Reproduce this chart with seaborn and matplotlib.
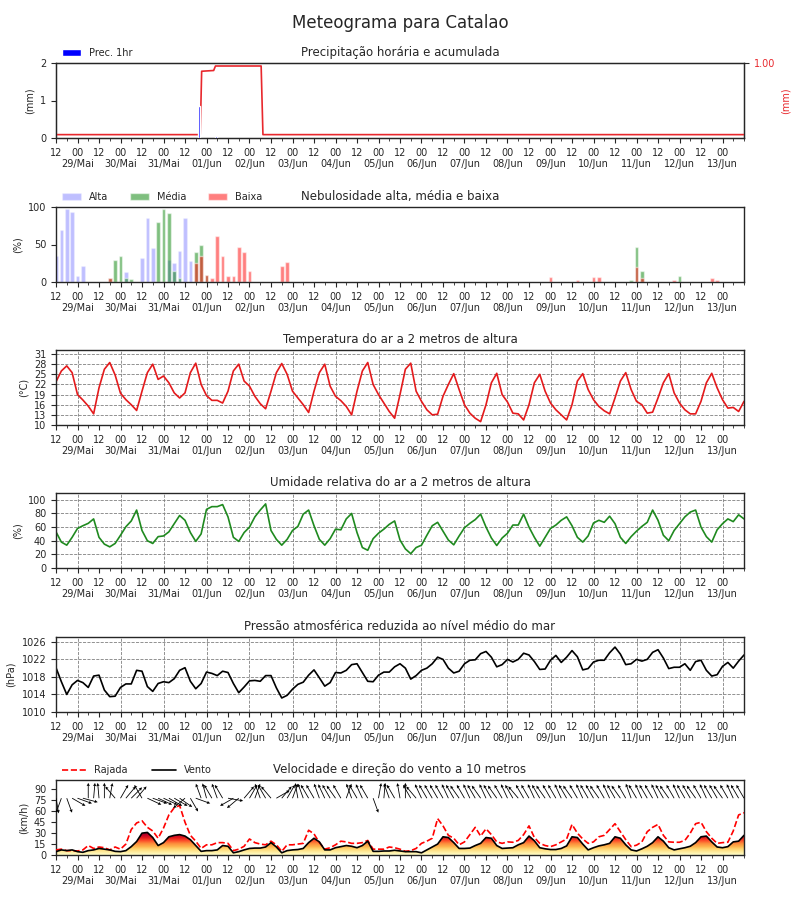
import datetime as dt
import numpy as np
import matplotlib
matplotlib.use('Agg')
import matplotlib.pyplot as plt
import seaborn as sns
from matplotlib.ticker import FixedLocator, FuncFormatter, MultipleLocator

# horas desde 28/Mai 12 UTC, dados a cada 3 h
inicio = dt.datetime(2024, 5, 28, 12)
meses = {5: 'Mai', 6: 'Jun'}
horas = np.arange(0, 385, 3)

# precipitacao
prec_horas = [79.8, 89.3]
prec_valores = [0.85, 0.05]
acum_horas = [0, 80.5, 81.3, 88, 89, 114.5, 115.5, 384]
acum_valores = [0.09, 0.09, 1.78, 1.80, 1.92, 1.92, 0.09, 0.09]

# nebulosidade (so os horarios com nuvem)
alta_horas = [0, 3, 6, 9, 12, 15, 39, 48, 51, 54, 63, 66, 69, 72, 75]
alta_valores = [35, 70, 97, 93, 8, 22, 14, 32, 85, 45, 30, 25, 42, 85, 28]
media_horas = [30, 33, 36, 39, 42, 57, 60, 63, 66, 69, 78, 81, 84, 321, 324, 327, 348]
media_valores = [6, 30, 35, 5, 4, 80, 98, 92, 15, 5, 40, 50, 10, 3, 47, 15, 8]
baixa_horas = [30, 78, 81, 84, 87, 90, 93, 96, 99, 102, 105, 108, 126, 129,
               276, 291, 300, 303, 324, 327, 345, 366, 369]
baixa_valores = [5, 25, 35, 10, 5, 62, 35, 8, 8, 47, 40, 15, 22, 27,
                 7, 3, 7, 7, 20, 5, 3, 5, 3]

temperatura = [
    22.8, 26.0, 27.5, 25.5, 19.0, 17.4, 15.6, 13.3,
    21.0, 26.5, 28.5, 24.8, 19.4, 17.5, 16.0, 14.3,
    20.0, 25.5, 28.0, 23.5, 24.5, 22.5, 19.5, 18.0,
    19.5, 25.5, 28.3, 22.0, 18.7, 17.3, 17.3, 16.5,
    20.0, 26.0, 28.0, 23.0, 21.5, 18.5, 16.3, 14.8,
    20.0, 25.5, 28.2, 25.0, 20.0, 18.0, 16.0, 13.7,
    20.0, 25.5, 28.0, 21.5, 18.5, 17.2, 15.5, 13.0,
    20.0, 26.0, 28.5, 22.0, 19.0, 16.5, 14.0, 12.0,
    19.0, 26.5, 28.3, 20.0, 17.0, 14.5, 13.0, 13.2,
    18.5, 22.0, 25.2, 20.5, 16.0, 13.5, 12.0, 11.0,
    16.0, 22.5, 25.3, 19.0, 16.8, 13.5, 13.3, 11.5,
    16.0, 22.5, 25.0, 20.0, 16.5, 14.5, 13.0, 11.5,
    16.0, 23.0, 25.2, 20.5, 17.5, 15.5, 14.2, 13.3,
    18.0, 23.0, 25.5, 20.5, 17.0, 16.0, 13.5, 13.8,
    18.0, 22.5, 25.2, 19.5, 16.5, 14.5, 13.3, 13.3,
    17.0, 22.5, 25.3, 21.0, 17.5, 15.0, 15.2, 14.0,
    17.0]

umidade = [
    53, 38, 33.5, 45, 58, 62, 65.5, 72,
    45, 35, 31, 36, 48, 60.5, 69, 85,
    55, 40, 36, 46, 47, 53, 65, 77,
    70, 52, 39, 50, 86, 90, 90, 93,
    75, 45, 39, 52, 60, 75, 85, 94,
    55, 42, 33.5, 42, 55, 61, 79, 85,
    62, 42, 33.5, 43, 57, 56, 72, 80,
    52, 30, 26, 43, 51, 57, 64, 69,
    41, 28, 21, 30, 33.5, 48, 62, 67,
    54, 41, 34, 47, 59, 65.5, 71, 79,
    60, 44, 33, 44, 51, 63, 63, 79,
    60, 45, 32, 45, 58, 63, 70, 75,
    62, 45, 38, 47, 66, 70, 67, 76,
    65, 45, 36, 46, 54, 61, 67, 85,
    70, 48, 40, 55, 65, 75, 82, 85,
    60, 46, 38, 56, 65, 72, 68, 78,
    72]

pressao = [
    1020.1, 1016.9, 1014.0, 1016.2, 1017.2, 1016.7, 1015.6, 1018.2,
    1018.4, 1015.0, 1013.5, 1013.6, 1015.6, 1016.4, 1016.4, 1019.5,
    1019.3, 1015.8, 1014.7, 1016.5, 1016.9, 1016.7, 1017.6, 1019.5,
    1020.1, 1017.0, 1015.3, 1016.5, 1019.1, 1018.8, 1018.3, 1019.3,
    1019.0, 1016.5, 1014.4, 1015.7, 1017.1, 1017.2, 1017.0, 1018.3,
    1018.3, 1015.5, 1013.2, 1013.8, 1015.2, 1016.3, 1016.8, 1018.4,
    1019.6, 1017.8, 1015.9, 1016.7, 1019.0, 1018.9, 1019.5, 1020.8,
    1021.0, 1019.0, 1017.0, 1016.9, 1018.4, 1019.1, 1019.1, 1020.3,
    1021.0, 1020.0, 1017.5, 1018.3, 1019.5, 1020.0, 1021.0, 1022.5,
    1022.0, 1020.0, 1018.9, 1019.3, 1021.0, 1021.8, 1021.9, 1023.3,
    1023.8, 1022.5, 1020.3, 1020.8, 1022.0, 1021.4, 1022.0, 1023.4,
    1023.0, 1021.5, 1019.7, 1019.8, 1021.8, 1022.9, 1021.3, 1022.5,
    1024.0, 1022.6, 1019.6, 1019.9, 1021.4, 1021.8, 1021.8, 1023.5,
    1024.8, 1023.2, 1020.8, 1021.0, 1022.0, 1021.6, 1022.0, 1023.6,
    1024.2, 1022.3, 1019.9, 1020.2, 1020.2, 1021.0, 1019.5, 1021.5,
    1021.8, 1019.5, 1018.2, 1018.5, 1020.4, 1021.3, 1020.0, 1021.6,
    1023.0]

vento = [
    4.6, 7, 6, 7, 4.6, 3.7, 6, 7,
    9, 8, 7, 5, 4.6, 6, 11.5, 18.5,
    30, 31, 24, 13, 17, 25, 27, 28,
    26, 21, 13, 5, 6, 6, 7, 13,
    12, 3, 4.6, 7, 9, 9.5, 9.5, 11,
    17, 11, 3, 6, 7, 7.5, 9, 17,
    23, 18, 7, 7, 10, 11.5, 13, 12,
    10, 13, 19, 5, 5, 5.5, 5.5, 6.5,
    5.5, 4.6, 4.6, 4.6, 3, 7, 11, 15,
    25, 24, 17, 9, 9, 9.5, 13, 16,
    24, 23, 13, 9, 9.5, 10, 14, 17,
    26, 19.5, 10, 8.5, 7.5, 7.5, 9, 12.5,
    25, 24, 15, 7, 10, 12.5, 14, 16,
    25, 23, 14, 7, 5.5, 8.5, 12, 17,
    25, 19, 10, 7, 8.5, 10, 12, 17,
    25, 26, 18, 11, 10, 11.5, 18, 19,
    27]

rajada = [
    7, 8, 6, 6, 5.5, 7, 13, 9,
    11, 10, 7, 11, 8, 15, 35, 44,
    47, 38, 33, 23, 37, 55, 65, 68,
    45, 27, 19, 9, 14, 14, 17, 17,
    16, 6, 8, 12, 22, 17, 15, 14,
    19, 14, 5, 14, 14, 15, 16, 34,
    29, 17, 8, 10, 14, 19, 18, 16,
    16, 17, 20, 8, 8, 8, 11, 10,
    8, 5, 6, 9, 16, 19, 23, 50,
    40, 27, 23, 14, 18, 28, 38, 26,
    36, 28, 18, 16, 18, 17.5, 20, 28,
    40, 24, 16, 13, 11.5, 14, 18, 22,
    42, 30, 22, 16, 18, 25, 27, 35,
    43, 32, 21, 11.5, 13.5, 18, 32, 38,
    42, 27, 18, 17.5, 17.5, 20, 30, 43,
    45, 32, 23, 16, 17, 17.5, 33, 55,
    58]

# direcao para onde aponta a seta (graus a partir do norte)
direcao = [
    170, 200, 160, 120, 110, 105, 0, 5,
    355, 0, 10, 320, 30, 40, 45, 40,
    330, 115, 110, 115, 115, 120, 120, 125,
    230, 150, 110, 340, 345, 330, 340, 330,
    100, 240, 230, 40, 30, 20, 340, 330,
    320, 60, 40, 30, 20, 350, 340, 330,
    330, 340, 335, 330, 325, 330, 20, 340,
    330, 335, 330, 160, 10, 5, 340, 330,
    350, 0, 330, 320, 335, 330, 330, 330,
    330, 335, 330, 325, 330, 335, 330, 325,
    335, 330, 325, 330, 335, 330, 320, 330,
    330, 335, 330, 325, 330, 330, 335, 330,
    325, 330, 335, 330, 330, 325, 330, 335,
    330, 325, 330, 340, 330, 335, 330, 330,
    335, 330, 325, 330, 335, 330, 330, 325,
    330, 335, 330, 330, 325, 330, 335, 330,
    330]


def rotulo(x, pos):
    d = inicio + dt.timedelta(hours=float(x))
    if d.hour == 0:
        return '00\n%02d/%s' % (d.day, meses[d.month])
    return '%02d' % d.hour


def eixo_x(ax, grade=False):
    ax.set_xlim(horas[0], horas[-1])
    ax.xaxis.set_major_locator(FixedLocator(np.arange(0, horas[-1] - 11, 12)))
    ax.xaxis.set_minor_locator(MultipleLocator(6))
    ax.xaxis.set_major_formatter(FuncFormatter(rotulo))
    ax.tick_params(axis='both', which='major', labelsize=7, length=3.5, direction='out')
    ax.tick_params(axis='x', which='minor', length=2)
    ax.set_xlabel('')
    for s in ax.spines.values():
        s.set_visible(True)
        s.set_linewidth(1.0)
    if grade:
        for h in np.arange(12, horas[-1], 24):
            ax.axvline(h, color='gray', ls='--', lw=0.6, zorder=0)
        ax.grid(axis='y', color='gray', ls='--', lw=0.6)
        ax.set_axisbelow(True)


def main():
    sns.set_style('ticks')
    plt.rcParams['font.family'] = ['DejaVu Sans']
    fig = plt.figure(figsize=(8, 9), dpi=100)
    fig.suptitle('Meteograma para Catalao', fontsize=12, y=0.985)

    fundos = [138, 282, 425, 568, 712, 855]
    eixos = [fig.add_axes([0.07, 1 - b / 900, 0.86, 75 / 900]) for b in fundos]

    # precipitacao
    ax = eixos[0]
    sns.lineplot(x=acum_horas, y=acum_valores, ax=ax, color='#e8282d', lw=1.2, zorder=3)
    ax.bar(prec_horas, prec_valores, width=1.1, color='blue', label='Prec. 1hr', zorder=4)
    ax.set_ylim(0, 2)
    ax.set_yticks([0, 1, 2])
    ax.set_ylabel('(mm)', fontsize=7)
    ax.set_title('Precipitação horária e acumulada', fontsize=8.5, pad=5)
    ax.legend(loc='lower left', bbox_to_anchor=(0, 0.99), frameon=False, fontsize=7,
              handlelength=2, borderaxespad=0.2)
    eixo_x(ax)
    ax2 = ax.twinx()
    ax2.set_ylim(0, 1)
    ax2.set_yticks([1.0])
    ax2.yaxis.set_major_formatter(FuncFormatter(lambda v, p: '%.2f' % v))
    ax2.tick_params(axis='y', labelsize=7, labelcolor='#e8282d', length=3.5)
    ax2.set_ylabel('(mm)', fontsize=7, color='#e8282d')

    # nebulosidade
    ax = eixos[1]
    ax.bar(alta_horas, alta_valores, width=2, color='blue', alpha=0.25, label='Alta')
    ax.bar(media_horas, media_valores, width=2, color='green', alpha=0.5, label='Média')
    ax.bar(baixa_horas, baixa_valores, width=2, color='red', alpha=0.5, label='Baixa')
    ax.set_ylim(0, 100)
    ax.set_yticks([0, 50, 100])
    ax.set_ylabel('(%)', fontsize=7)
    ax.set_title('Nebulosidade alta, média e baixa', fontsize=8.5, pad=5)
    ax.legend(loc='lower left', bbox_to_anchor=(0, 0.99), frameon=False, fontsize=7,
              ncol=3, handlelength=2, columnspacing=2.2, borderaxespad=0.2)
    eixo_x(ax)

    # temperatura
    ax = eixos[2]
    sns.lineplot(x=horas, y=temperatura, ax=ax, color='#e41a1c', lw=1.2)
    ax.set_ylim(10, 32.2)
    ax.set_yticks(np.arange(10, 32, 3))
    ax.set_ylabel('(°C)', fontsize=7)
    ax.set_title('Temperatura do ar a 2 metros de altura', fontsize=8.5, pad=5)
    eixo_x(ax, grade=True)

    # umidade
    ax = eixos[3]
    sns.lineplot(x=horas, y=umidade, ax=ax, color='#1f8a1f', lw=1.2)
    ax.set_ylim(0, 110)
    ax.set_yticks(np.arange(0, 101, 20))
    ax.set_ylabel('(%)', fontsize=7)
    ax.set_title('Umidade relativa do ar a 2 metros de altura', fontsize=8.5, pad=5)
    eixo_x(ax, grade=True)

    # pressao
    ax = eixos[4]
    sns.lineplot(x=horas, y=pressao, ax=ax, color='black', lw=1.2)
    ax.set_ylim(1010, 1027.1)
    ax.set_yticks(np.arange(1010, 1027, 4))
    ax.set_ylabel('(hPa)', fontsize=7)
    ax.set_title('Pressão atmosférica reduzida ao nível médio do mar', fontsize=8.5, pad=5)
    eixo_x(ax, grade=True)

    # vento
    ax = eixos[5]
    poly = ax.fill_between(horas, 0, vento, color='none', lw=0)
    grad = np.linspace(0, 1, 256).reshape(-1, 1)
    img = ax.imshow(grad, cmap='YlOrRd', aspect='auto', origin='lower',
                    extent=[horas[0], horas[-1], 0, max(vento)], zorder=1)
    img.set_clip_path(poly.get_paths()[0], transform=ax.transData)
    sns.lineplot(x=horas, y=rajada, ax=ax, color='red', lw=1.2, linestyle='--',
                 label='Rajada', zorder=3)
    sns.lineplot(x=horas, y=vento, ax=ax, color='black', lw=1.2, label='Vento', zorder=4)
    rad = np.deg2rad(direcao)
    ax.quiver(horas, np.full(len(horas), 78.0), np.sin(rad), np.cos(rad),
              angles='uv', scale_units='inches', scale=6.5, pivot='tail',
              width=0.0012, headwidth=4, headlength=4, headaxislength=3.5,
              color='black', zorder=5)
    ax.set_ylim(0, 103)
    ax.set_yticks(np.arange(0, 91, 15))
    ax.set_ylabel('(km/h)', fontsize=7)
    ax.set_title('Velocidade e direção do vento a 10 metros', fontsize=8.5, pad=5)
    ax.legend(loc='lower left', bbox_to_anchor=(0, 0.99), frameon=False, fontsize=7,
              ncol=2, handlelength=2.5, columnspacing=2.5, borderaxespad=0.2)
    eixo_x(ax)

    fig.savefig('out.png', dpi=100)


if __name__ == '__main__':
    main()
